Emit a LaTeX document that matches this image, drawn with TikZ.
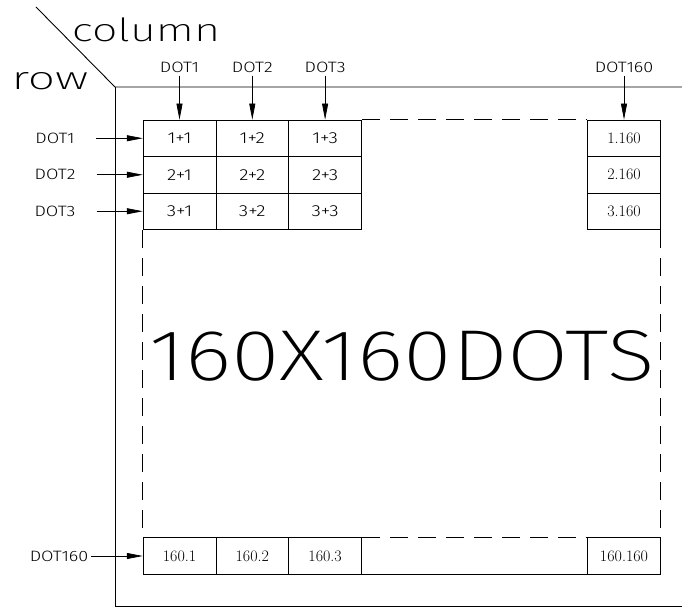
\documentclass[tikz,border=0pt]{standalone}
\usepackage{fontspec}
\IfFontExistsTF{Fira Sans ExtraLight}{\newfontfamily\thinfont{Fira Sans ExtraLight}}{%
 \IfFontExistsTF{DejaVu Sans ExtraLight}{\newfontfamily\thinfont{DejaVu Sans ExtraLight}}{%
  \IfFontExistsTF{Lato Hairline}{\newfontfamily\thinfont{Lato Hairline}}{%
   \IfFontExistsTF{Open Sans Light}{\newfontfamily\thinfont{Open Sans Light}}{%
    \newcommand\thinfont{\sffamily}}}}}
\IfFontExistsTF{Fira Sans Light}{\newfontfamily\lightfont{Fira Sans Light}}{%
 \IfFontExistsTF{Lato Light}{\newfontfamily\lightfont{Lato Light}}{%
  \IfFontExistsTF{Open Sans Light}{\newfontfamily\lightfont{Open Sans Light}}{%
   \newcommand\lightfont{\sffamily}}}}
\newcommand\wdtxt[1]{\scalebox{1.2}[1]{#1}}
\usetikzlibrary{arrows.meta}
\begin{document}
\begin{tikzpicture}[x=1pt,y=-1pt,
  cell/.style={draw, line width=0.7pt, minimum width=72.8pt, minimum height=36.5pt, inner sep=0pt, font=\lightfont\fontsize{16}{16}\selectfont},
  cellr/.style={cell, font=\rmfamily\fontsize{16}{16}\selectfont},
  lab/.style={font=\lightfont\fontsize{15}{15}\selectfont, inner sep=1pt},
  arr/.style={-{Triangle[length=16pt,width=6pt]}, line width=0.7pt},
  dashline/.style={dash pattern=on 18pt off 10pt, line width=0.7pt},
  frameline/.style={line width=0.9pt}]
\useasboundingbox (0,0) rectangle (682,607);
% frame
\coordinate (diag) at (36,7);
\coordinate (corner) at (115,87);
\coordinate (tr) at (682,87);
\coordinate (bl) at (115,606);
\coordinate (br) at (682,606);
\draw[frameline] (diag) -- (corner) -- (tr);
\draw[frameline] (corner) -- (bl) -- (br);
\node[inner sep=0pt] (col) at (146,30) {\scalebox{1.4}[1]{\thinfont\fontsize{32}{32}\selectfont column}};
\node[inner sep=0pt] (row) at (50,81) {\scalebox{1.5}[1]{\thinfont\fontsize{32}{32}\selectfont row}};
% cells
\node[cell] (a11) at (179.5,138.25) {\wdtxt{1+1}};
\node[cell] (a12) at (252.3,138.25) {\wdtxt{1+2}};
\node[cell] (a13) at (325.1,138.25) {\wdtxt{1+3}};
\node[cellr] (a1n) at (624,138.25) {1.160};
\node[cell] (a21) at (179.5,174.75) {\wdtxt{2+1}};
\node[cell] (a22) at (252.3,174.75) {\wdtxt{2+2}};
\node[cell] (a23) at (325.1,174.75) {\wdtxt{2+3}};
\node[cellr] (a2n) at (624,174.75) {2.160};
\node[cell] (a31) at (179.5,211.25) {\wdtxt{3+1}};
\node[cell] (a32) at (252.3,211.25) {\wdtxt{3+2}};
\node[cell] (a33) at (325.1,211.25) {\wdtxt{3+3}};
\node[cellr] (a3n) at (624,211.25) {3.160};
\node[cellr] (b1) at (179.5,556) {160.1};
\node[cellr] (b2) at (252.3,556) {160.2};
\node[cellr] (b3) at (325.1,556) {160.3};
\node[cellr] (bn) at (624,556) {160.160};
% dashed outline
\draw[dashline] (a13.north east) -- (a1n.north west);
\draw[dashline] (a31.south west) -- (b1.north west);
\draw[dashline] (a3n.south east) -- (bn.north east);
\draw[dashline] (b3.north east) -- (bn.north west);
\draw[line width=0.7pt] (b3.south east) -- (bn.south west);
% big text
\node (big) at (402,356) {\scalebox{1.23}[1]{\thinfont\fontsize{72}{72}\selectfont 160X160DOTS}};
% top labels
\node[lab] (t1) at (179.5,67) {\wdtxt{DOT1}};
\node[lab] (t2) at (252.3,67) {\wdtxt{DOT2}};
\node[lab] (t3) at (325.1,67) {\wdtxt{DOT3}};
\node[lab] (tn) at (624,67) {\wdtxt{DOT160}};
\draw[arr, shorten <=2pt] (t1.south) -- (a11.north);
\draw[arr, shorten <=2pt] (t2.south) -- (a12.north);
\draw[arr, shorten <=2pt] (t3.south) -- (a13.north);
\draw[arr, shorten <=2pt] (tn.south) -- (a1n.north);
% left labels
\node[lab] (l1) at (55,138.25) {\wdtxt{DOT1}};
\node[lab] (l2) at (55,174.75) {\wdtxt{DOT2}};
\node[lab] (l3) at (55,211.25) {\wdtxt{DOT3}};
\node[lab] (ln) at (59,556) {\wdtxt{DOT160}};
\draw[arr, shorten <=20pt] (l1.east) -- (a11.west);
\draw[arr, shorten <=20pt] (l2.east) -- (a21.west);
\draw[arr, shorten <=20pt] (l3.east) -- (a31.west);
\draw[arr, shorten <=2pt] (ln.east) -- (b1.west);
\end{tikzpicture}
\end{document}
